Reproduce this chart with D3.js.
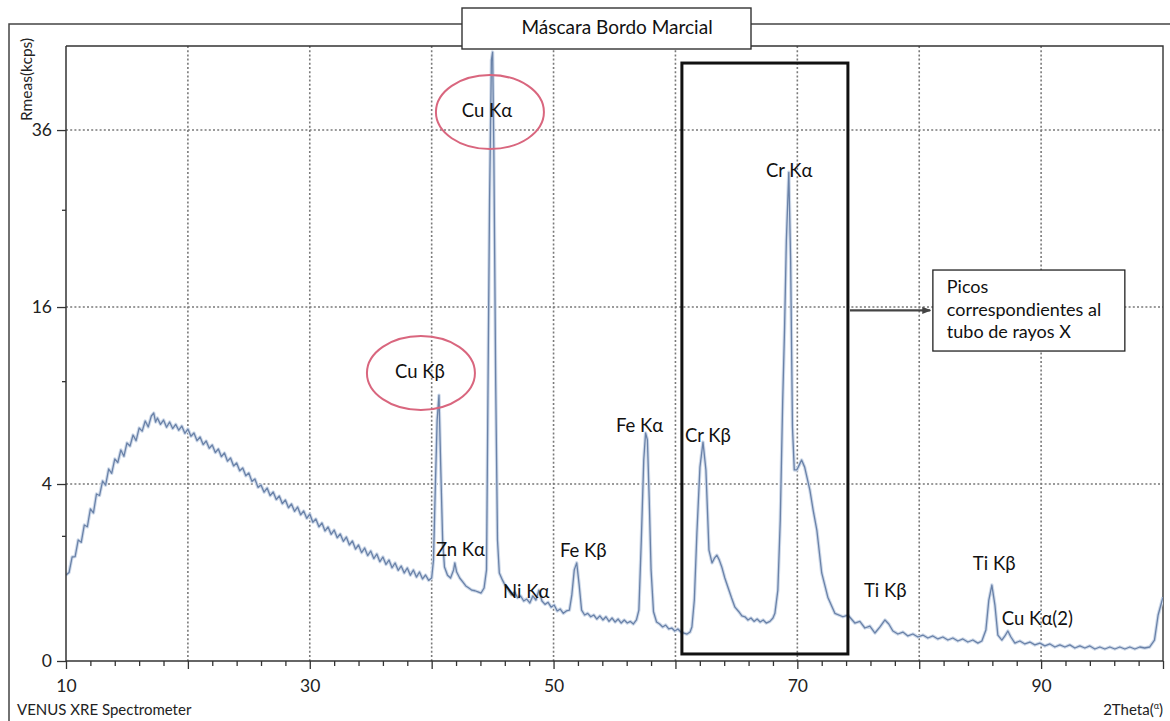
<!DOCTYPE html>
<html>
<head>
<meta charset="utf-8">
<script src="https://cdn.jsdelivr.net/npm/d3@7/dist/d3.min.js"></script>
<style>
  html, body { margin: 0; padding: 0; background: #fff; }
  svg { display: block; font-family: Lato, "Noto Sans", "DejaVu Sans", sans-serif; }
</style>
</head>
<body>
<svg id="chart" width="1170" height="721"></svg>
<script>
// ---------- data ----------
const chartTitle = "Máscara Bordo Marcial";
const yAxisTitle = "Rmeas(kcps)";
const footerLeft = "VENUS XRE Spectrometer";
const xDomain = [10, 100];
const yDomain = [0, 48.3];
const xMajorTicks = [10, 20, 30, 40, 50, 60, 70, 80, 90, 100];
const xLabelTicks = [10, 30, 50, 70, 90];
const xMinorTicks = [12,14,16,18,22,24,26,28,32,34,36,38,42,44,46,48,52,54,56,58,62,64,66,68,72,74,76,78,82,84,86,88,92,94,96,98];
const yMajorTicks = [0, 4, 16, 36];
const yMinorTicks = [2, 10, 26];
const xGrid = [20, 30, 40, 50, 60, 70, 80, 90];
const yGrid = [4, 16, 36];

// spectrum: [2Theta, kcps]
const spectrum = [
[10.0,0.944],[10.25,1.0],[10.5,1.381],[10.75,1.394],[11.0,1.869],[11.25,1.80],[11.5,2.361],[11.75,2.30],
[12.0,2.95],[12.25,2.80],[12.5,3.561],[12.75,3.497],[13.0,4.137],[13.25,3.95],[13.5,4.707],[13.75,4.50],
[14.0,5.21],[14.25,5.031],[14.5,5.684],[14.75,5.35],[15.0,6.068],[15.25,5.90],[15.5,6.521],[15.75,6.20],
[16.0,6.931],[16.25,6.75],[16.5,7.354],[16.75,7.00],[17.0,7.664],[17.2,7.853],[17.35,7.293],[17.5,7.539],
[17.75,7.15],[18.0,7.416],[18.25,6.98],[18.5,7.293],[18.75,6.90],[19.0,7.15],[19.25,6.80],[19.5,7.051],
[19.75,6.62],[20.0,6.872],[20.25,6.45],[20.5,6.637],[20.75,6.20],[21.0,6.406],[21.25,5.98],[21.5,6.18],
[21.75,5.78],[22.0,5.957],[22.25,5.55],[22.5,5.738],[22.75,5.33],[23.0,5.524],[23.25,5.10],[23.5,5.261],
[23.75,4.86],[24.0,5.005],[24.25,4.62],[24.5,4.756],[24.75,4.38],[25.0,4.513],[25.25,4.12],[25.5,4.229],
[25.75,3.85],[26.0,3.955],[26.25,3.64],[26.5,3.821],[26.75,3.49],[27.0,3.647],[27.25,3.33],[27.5,3.476],
[27.75,3.16],[28.0,3.31],[28.25,3.00],[28.5,3.147],[28.75,2.86],[29.0,3.028],[29.25,2.73],[29.5,2.873],
[29.75,2.60],[30.0,2.759],[30.25,2.46],[30.5,2.574],[30.75,2.30],[31.0,2.431],[31.25,2.16],[31.5,2.293],
[31.75,2.05],[32.0,2.191],[32.25,1.94],[32.5,2.059],[32.75,1.83],[33.0,1.963],[33.25,1.72],[33.5,1.839],
[33.75,1.60],[34.0,1.718],[34.25,1.50],[34.5,1.63],[34.75,1.42],[35.0,1.545],[35.25,1.34],[35.5,1.462],
[35.75,1.26],[36.0,1.381],[36.25,1.19],[36.5,1.302],[36.75,1.11],[37.0,1.226],[37.25,1.05],[37.5,1.152],
[37.75,0.99],[38.0,1.104],[38.25,0.94],[38.5,1.057],[38.75,0.90],[39.0,1.011],[39.25,0.86],[39.5,0.944],
[39.75,0.83],[40.0,0.88],
[40.15,1.30],[40.3,3.87],[40.45,7.42],[40.6,9.03],[40.75,4.66],[40.9,1.87],[41.05,1.13],[41.3,0.94],
[41.55,0.88],[41.8,1.06],[41.9,1.23],[42.05,1.01],[42.3,0.88],[42.55,0.80],[42.8,0.72],[43.05,0.68],
[43.3,0.64],[43.55,0.63],[43.8,0.61],[44.05,0.59],[44.3,0.68],[44.5,1.06],[44.6,7.42],[44.75,27.1],
[44.9,46.1],[45.0,47.35],[45.1,33.3],[45.25,10.1],[45.4,1.87],[45.55,0.99],[45.8,0.84],[46.05,0.72],
[46.3,0.64],[46.55,0.56],[46.8,0.61],[47.05,0.51],[47.3,0.54],[47.55,0.46],[47.8,0.49],[48.05,0.43],
[48.3,0.54],[48.55,0.475],[48.8,0.64],[49.05,0.46],[49.3,0.41],[49.55,0.44],[49.8,0.37],[50.05,0.40],
[50.3,0.32],[50.55,0.345],[50.8,0.29],[51.05,0.32],[51.3,0.33],[51.5,0.56],[51.7,1.06],[51.9,1.23],
[52.1,0.74],[52.3,0.33],[52.55,0.27],[52.8,0.29],[53.05,0.25],[53.3,0.27],[53.55,0.225],[53.8,0.26],
[54.05,0.215],[54.3,0.25],[54.55,0.20],[54.8,0.236],[55.05,0.194],[55.3,0.225],[55.55,0.184],[55.8,0.215],
[56.05,0.184],[56.3,0.20],[56.55,0.175],[56.8,0.215],[57.0,0.33],[57.2,1.87],[57.4,5.16],[57.55,6.64],
[57.7,6.24],[57.85,3.31],[58.0,1.06],[58.2,0.31],[58.45,0.194],[58.7,0.175],[58.95,0.148],[59.2,0.165],
[59.45,0.131],[59.7,0.139],[59.95,0.115],[60.2,0.131],[60.45,0.107],[60.7,0.10],[60.95,0.093],[61.2,0.107],
[61.35,0.148],[61.55,0.475],[61.76,2.09],[62.01,4.80],[62.26,6.12],[62.5,4.66],[62.75,1.57],[63.0,1.23],
[63.2,1.35],[63.4,1.43],[63.6,1.30],[63.8,1.13],[64.05,0.88],[64.3,0.70],[64.6,0.51],[64.88,0.37],
[65.2,0.31],[65.45,0.26],[65.7,0.25],[65.95,0.215],[66.2,0.236],[66.45,0.20],[66.7,0.225],[66.95,0.194],
[67.2,0.215],[67.45,0.184],[67.75,0.20],[68.0,0.236],[68.16,0.29],[68.4,0.64],[68.6,2.54],[68.8,8.70],
[68.95,13.99],[69.1,22.6],[69.3,30.5],[69.45,20.5],[69.6,6.99],[69.75,4.66],[69.95,4.66],[70.15,4.90],
[70.35,5.16],[70.6,4.80],[71.03,3.73],[71.3,2.90],[71.6,2.19],[72.0,0.99],[72.5,0.52],[73.08,0.29],
[73.74,0.25],[74.15,0.27],[74.72,0.184],[75.13,0.20],[75.54,0.139],[75.95,0.156],[76.37,0.10],[76.78,0.148],
[77.19,0.215],[77.5,0.175],[77.84,0.115],[78.25,0.093],[78.66,0.107],[79.07,0.08],[79.48,0.093],[79.89,0.0735],
[80.3,0.086],[80.71,0.0675],[81.12,0.08],[81.53,0.062],[81.94,0.0735],[82.35,0.0563],[82.76,0.0675],[83.17,0.051],
[83.58,0.062],[83.99,0.046],[84.4,0.0563],[84.81,0.041],[85.14,0.051],[85.47,0.123],[85.71,0.475],[85.96,0.737],
[86.21,0.40],[86.45,0.086],[86.78,0.056],[87.03,0.08],[87.27,0.115],[87.52,0.0735],[87.85,0.041],[88.26,0.051],
[88.67,0.037],[89.08,0.046],[89.49,0.033],[89.9,0.041],[90.31,0.029],[90.72,0.037],[91.13,0.025],[91.54,0.033],
[91.95,0.025],[92.36,0.033],[92.77,0.0216],[93.18,0.029],[93.59,0.0216],[94.0,0.029],[94.41,0.0184],[94.82,0.025],
[95.23,0.0184],[95.64,0.025],[96.05,0.0184],[96.46,0.025],[96.87,0.0184],[97.28,0.025],[97.69,0.0184],[98.1,0.025],
[98.5,0.0216],[98.9,0.025],[99.3,0.056],[99.6,0.27],[100.0,0.52]
];

// peak labels
const peakLabelText = ["Cu Kα","Cu Kβ","Zn Kα","Ni Kα","Fe Kβ","Fe Kα","Cr Kβ","Cr Kα","Ti Kβ","Ti Kβ","Cu Kα(2)"];
const peakLabelX    = [44.54, 39.04, 40.35, 45.85, 50.52, 55.12, 60.78, 67.42, 75.46, 84.4, 86.78];
const peakLabelY    = [37.8, 10.23, 1.41, 0.507, 1.381, 6.70, 6.12, 29.9, 0.523, 1.057, 0.165];
const peakLabelAnchor = ["middle","middle","start","start","start","start","start","start","start","start","start"];

// circled peaks (centres in data units)
const circleX = [44.78, 39.12];
const circleY = [38.48, 10.59];

// X-ray tube box region in data units
const tubeBoxX = [60.53, 74.15];
const tubeBoxY = [0.0063, 45.66];
const arrowX = [74.15, 80.9];
const arrowY = 15.7;
const noteBoxX = [81.12, 96.87];
const noteBoxY = [12.27, 19.52];
const noteLines = ["Picos", "correspondientes al", "tubo de rayos X"];

// ---------- drawing ----------
const svg = d3.select("#chart");
const W = 1170, H = 721;
const plot = {left: 66, right: 1163, top: 46, bottom: 661};

const x = d3.scaleLinear().domain(xDomain).range([plot.left, plot.right]);
const y = d3.scaleSqrt().domain(yDomain).range([plot.bottom, plot.top]);

// outer frame
svg.append("path")
  .attr("d", `M9,${H + 5} L9,24 L${W + 5},24`)
  .attr("fill", "none").attr("stroke", "#444").attr("stroke-width", 1.5);

// grid
const grid = svg.append("g");
grid.selectAll("line.gx").data(xGrid).join("line")
  .attr("x1", d => x(d)).attr("x2", d => x(d))
  .attr("y1", plot.top).attr("y2", plot.bottom)
  .attr("stroke", "#7a7a7a").attr("stroke-width", 1.6).attr("stroke-dasharray", "2,2.2");
grid.selectAll("line.gy").data(yGrid).join("line")
  .attr("x1", plot.left).attr("x2", plot.right)
  .attr("y1", d => y(d)).attr("y2", d => y(d))
  .attr("stroke", "#7a7a7a").attr("stroke-width", 1.6).attr("stroke-dasharray", "2,2.2");

// plot frame (top & right)
svg.append("path")
  .attr("d", `M${plot.left},${plot.top} L${plot.right},${plot.top} L${plot.right},${plot.bottom}`)
  .attr("fill", "none").attr("stroke", "#333").attr("stroke-width", 1.4);

// clip
svg.append("clipPath").attr("id", "clip").append("rect")
  .attr("x", plot.left).attr("y", plot.top).attr("width", plot.right - plot.left).attr("height", plot.bottom - plot.top);

const line = d3.line().x(d => x(d[0])).y(d => y(d[1]));
const gLine = svg.append("g").attr("clip-path", "url(#clip)");
gLine.append("path").datum(spectrum).attr("d", line)
  .attr("fill", "none").attr("stroke", "#cfdaea").attr("stroke-width", 3.4).attr("stroke-linejoin", "round");
gLine.append("path").datum(spectrum).attr("d", line)
  .attr("fill", "none").attr("stroke", "#6a82a8").attr("stroke-width", 1.3).attr("stroke-linejoin", "round");

// axes
const axisColor = "#333";
const fontSize = 17.5;
const gx = svg.append("g").attr("transform", `translate(0,${plot.bottom})`)
  .call(d3.axisBottom(x).tickValues(xMajorTicks).tickSize(8).tickPadding(11)
    .tickFormat(d => xLabelTicks.includes(d) ? d : ""));
const gxm = svg.append("g").attr("transform", `translate(0,${plot.bottom})`)
  .call(d3.axisBottom(x).tickValues(xMinorTicks).tickSize(5).tickFormat(""));
const gy = svg.append("g").attr("transform", `translate(${plot.left},0)`)
  .call(d3.axisLeft(y).tickValues(yMajorTicks).tickSize(9).tickPadding(5));
const gym = svg.append("g").attr("transform", `translate(${plot.left},0)`)
  .call(d3.axisLeft(y).tickValues(yMinorTicks).tickSize(4).tickFormat(""));
[gx, gxm, gy, gym].forEach(g => {
  g.selectAll(".domain").attr("stroke", axisColor).attr("stroke-width", 1.5);
  g.selectAll(".tick line").attr("stroke", axisColor).attr("stroke-width", 1.3);
  g.selectAll("text").attr("font-size", fontSize).attr("fill", "#222")
    .attr("font-family", "Lato, 'Noto Sans', sans-serif");
});
gx.select(".domain").attr("d", `M${plot.left},0H${plot.right}`);
gxm.select(".domain").remove();
gym.select(".domain").remove();
gy.select(".domain").attr("d", `M0,${plot.bottom}V${plot.top}`);

// axis titles
svg.append("text")
  .attr("transform", `translate(32,121) rotate(-90)`)
  .attr("font-size", 15.5).attr("fill", "#222").text(yAxisTitle);
svg.append("text").attr("x", 17).attr("y", 715)
  .attr("font-size", 15).attr("fill", "#222").text(footerLeft);
const xt = svg.append("text").attr("x", 1163).attr("y", 715).attr("text-anchor", "end")
  .attr("font-size", 15).attr("fill", "#222");
xt.append("tspan").text("2Theta(");
xt.append("tspan").attr("font-size", 9).attr("dy", -6).text("α");
xt.append("tspan").attr("dy", 6).text(")");

// tube box
svg.append("rect")
  .attr("x", x(tubeBoxX[0])).attr("y", y(tubeBoxY[1]))
  .attr("width", x(tubeBoxX[1]) - x(tubeBoxX[0]))
  .attr("height", y(tubeBoxY[0]) - y(tubeBoxY[1]))
  .attr("fill", "none").attr("stroke", "#111").attr("stroke-width", 3);

// arrow
svg.append("defs").append("marker")
  .attr("id", "arrow").attr("viewBox", "0 0 10 10").attr("refX", 9).attr("refY", 5)
  .attr("markerWidth", 4).attr("markerHeight", 4).attr("orient", "auto")
  .append("path").attr("d", "M0,1 L10,5 L0,9 Z").attr("fill", "#444");
svg.append("line")
  .attr("x1", x(arrowX[0]) + 2).attr("x2", x(arrowX[1]))
  .attr("y1", y(arrowY)).attr("y2", y(arrowY))
  .attr("stroke", "#444").attr("stroke-width", 2.2).attr("marker-end", "url(#arrow)");

// note box
svg.append("rect")
  .attr("x", x(noteBoxX[0])).attr("y", y(noteBoxY[1]))
  .attr("width", x(noteBoxX[1]) - x(noteBoxX[0]))
  .attr("height", y(noteBoxY[0]) - y(noteBoxY[1]))
  .attr("fill", "#fff").attr("stroke", "#222").attr("stroke-width", 1.3);
const nt = svg.append("text").attr("x", x(noteBoxX[0]) + 14).attr("y", y(noteBoxY[1]) + 23)
  .attr("font-size", 18).attr("fill", "#111");
noteLines.forEach((t, i) => nt.append("tspan").attr("x", x(noteBoxX[0]) + 14).attr("dy", i === 0 ? 0 : 22.5).text(t));

// red ellipses
svg.selectAll("ellipse.circ").data(circleX).join("ellipse")
  .attr("cx", d => x(d)).attr("cy", (d, i) => y(circleY[i]))
  .attr("rx", 54).attr("ry", 37)
  .attr("fill", "none").attr("stroke", "#d9667e").attr("stroke-width", 2);

// peak labels
svg.selectAll("text.peak").data(peakLabelText).join("text")
  .attr("class", "peak")
  .attr("x", (d, i) => x(peakLabelX[i])).attr("y", (d, i) => y(peakLabelY[i]))
  .attr("text-anchor", (d, i) => peakLabelAnchor[i])
  .attr("font-size", 18.5).attr("fill", "#111").text(d => d);

// title box
const tb = {x: 462, y: 8, w: 289, h: 41};
svg.append("rect").attr("x", tb.x).attr("y", tb.y).attr("width", tb.w).attr("height", tb.h)
  .attr("fill", "#fff").attr("stroke", "#333").attr("stroke-width", 1.4);
svg.append("text").attr("x", 617).attr("y", 34).attr("text-anchor", "middle")
  .attr("font-size", 19).attr("fill", "#111").text(chartTitle);
</script>
</body>
</html>
